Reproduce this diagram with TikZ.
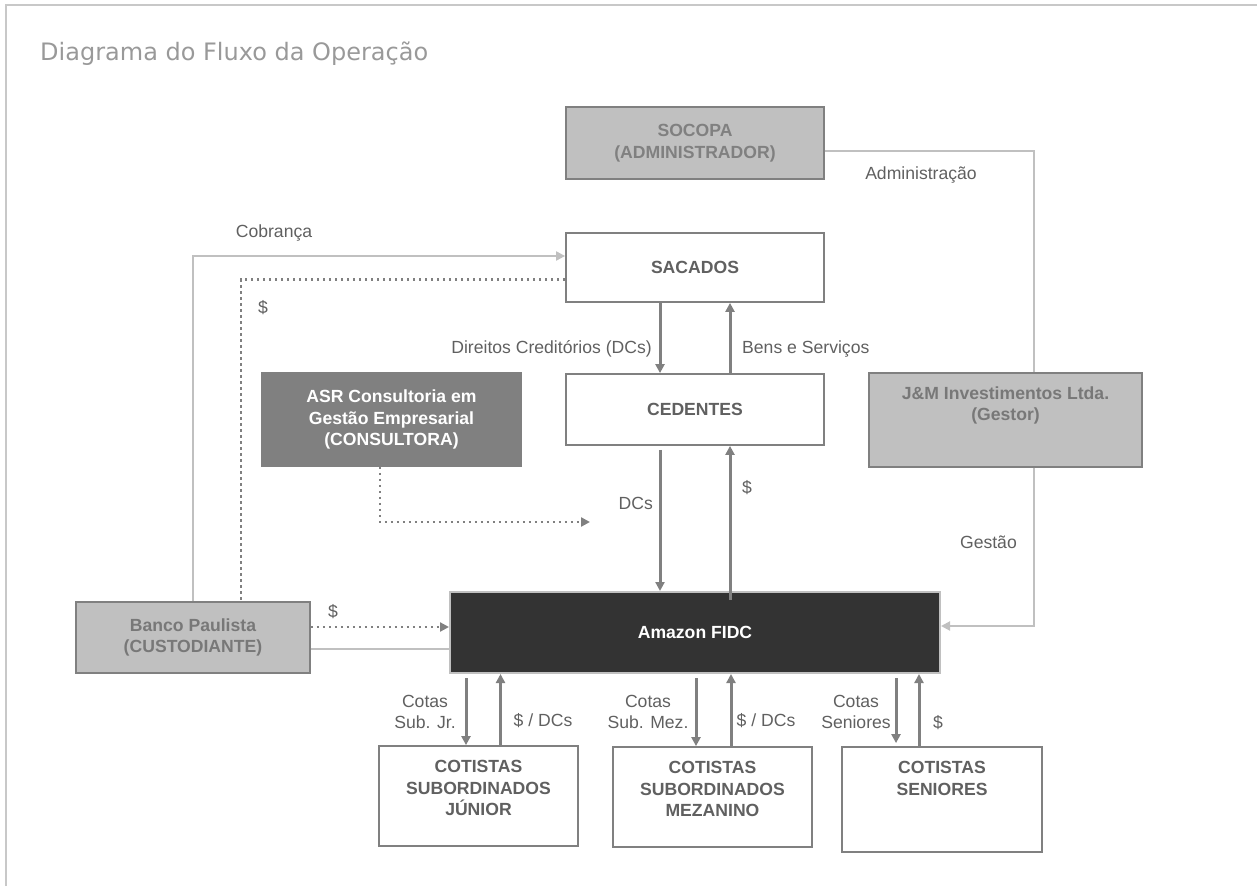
\documentclass[tikz,border=0pt]{standalone}
\usepackage{fontspec}
\setmainfont{Liberation Sans}
\newfontfamily\titlefont{DejaVu Sans}
\usetikzlibrary{arrows.meta}
\definecolor{linegray}{HTML}{C0C0C0}
\definecolor{framegray}{HTML}{C8C8C8}
\definecolor{darkgray}{HTML}{808080}
\definecolor{txtgray}{HTML}{606060}
\definecolor{titlegray}{HTML}{999999}
\definecolor{boxfill}{HTML}{C0C0C0}
\definecolor{fidc}{HTML}{333333}

\begin{document}
\begin{tikzpicture}[x=1pt,y=-1pt,
    every node/.style={font=\fontsize{17.6}{20.5}\selectfont, text=txtgray, inner sep=0pt},
    whitebox/.style={draw=darkgray, line width=1.8pt, fill=white, align=center,
      font=\fontsize{17.6}{21.5}\selectfont\bfseries},
    graybox/.style={whitebox, fill=boxfill},
    boxtext/.style={anchor=north, align=center, font=\fontsize{17.6}{21.5}\selectfont\bfseries},
    lbl/.style={align=center},
    darr/.style={draw=darkgray, line width=3pt, -{Triangle[length=9pt,width=9pt]}},
    larr/.style={draw=linegray, line width=2pt, -{Triangle[length=9pt,width=9pt]}},
    lline/.style={draw=linegray, line width=2pt},
    dotline/.style={draw=darkgray, line width=2.5pt, dash pattern=on 2.5pt off 3.5pt}
  ]
    \useasboundingbox (0,0) rectangle (1257,886);
    % frame and title
    \draw[framegray, line width=2pt] (6,886) -- (6,5) -- (1257,5);
    \node[anchor=base west, text=titlegray, font=\titlefont\fontsize{24}{28}\selectfont] (title) at (40,60) {Diagrama do Fluxo da Operação};

    % boxes
    \node[graybox, minimum width=258pt, minimum height=72pt, text=darkgray] (socopa) at (695,143) {SOCOPA\\(ADMINISTRADOR)};
    \node[whitebox, minimum width=258pt, minimum height=69pt] (sacados) at (695,267.5) {SACADOS};
    \node[whitebox, minimum width=258pt, minimum height=71pt] (cedentes) at (695,409.5) {CEDENTES};
    \node[whitebox, fill=darkgray, draw=darkgray, text=white, minimum width=259pt, minimum height=93pt] (asr) at (391.5,419.5) {ASR Consultoria em\\Gestão Empresarial\\(CONSULTORA)};
    \node[graybox, minimum width=273pt, minimum height=94pt] (gestor) at (1005.5,420) {};
    \node[boxtext, text=txtgray!85!white] (gestortxt) at ([yshift=-14pt]gestor.north) {J\&M Investimentos Ltda.\\(Gestor)};
    \node[whitebox, fill=fidc, draw=linegray, line width=2pt, text=white, minimum width=490pt, minimum height=81pt] (amazon) at (695,632.5) {Amazon FIDC};
    \node[graybox, minimum width=234pt, minimum height=71pt, text=txtgray!85!white] (banco) at (193,637.5) {Banco Paulista\\(CUSTODIANTE)};
    \node[whitebox, minimum width=199pt, minimum height=100pt] (junior) at (478.5,796) {};
    \node[boxtext] (juniortxt) at ([yshift=-15pt]junior.north) {COTISTAS\\SUBORDINADOS\\JÚNIOR};
    \node[whitebox, minimum width=199pt, minimum height=100pt] (mezanino) at (712.5,797) {};
    \node[boxtext] (mezaninotxt) at ([yshift=-15pt]mezanino.north) {COTISTAS\\SUBORDINADOS\\MEZANINO};
    \node[whitebox, minimum width=200pt, minimum height=105pt] (seniores) at (942,799.5) {};
    \node[boxtext] (seniorestxt) at ([yshift=-15pt]seniores.north) {COTISTAS\\SENIORES};

    % cobranca and custodia
    \draw[larr] (banco.north) |- ([yshift=11.5pt]sacados.west);
    \draw[dotline] ([yshift=-12pt]sacados.west) -| ([xshift=48pt]banco.north);
    \draw[dotline, -{Triangle[length=9pt,width=9pt]}] ([yshift=10.5pt]banco.east) -- ([yshift=10.5pt]banco.east -| amazon.west);
    \draw[lline] ([yshift=-11.5pt]banco.east) -- ([yshift=-11.5pt]banco.east -| amazon.west);
    \node[anchor=base] (cobranca) at (274,237.3) {Cobrança};
    \node[anchor=base] (sacadosdin) at (263,313) {\$};
    \node[anchor=base] (bancodin) at (333,617) {\$};

    % sacados - cedentes - fundo
    \draw[darr] ([xshift=-35pt]sacados.south) -- ([xshift=-35pt]cedentes.north);
    \draw[darr] ([xshift=35pt]cedentes.north) -- ([xshift=35pt]sacados.south);
    \draw[darr] ([xshift=-35pt,yshift=-4pt]cedentes.south) -- ([xshift=-35pt]amazon.north);
    \draw[darr] ([xshift=35pt,yshift=-9pt]amazon.north) -- ([xshift=35pt]cedentes.south);
    \node[anchor=base east] (direitos) at (652,353.3) {Direitos Creditórios (DCs)};
    \node[anchor=base west] (bens) at (742,353.3) {Bens e Serviços};
    \node[anchor=base east] (dcs) at (653,509.3) {DCs};
    \node[anchor=base west] (cedentesdin) at (742,493.3) {\$};

    % consultora
    \coordinate (consult) at (590,522);
    \draw[dotline, -{Triangle[length=9pt,width=9pt]}] ([xshift=-11.5pt]asr.south) |- (consult);

    % administrador e gestor
    \draw[lline] ([yshift=-8pt]socopa.east) -| ([xshift=28.5pt]gestor.north);
    \draw[larr] ([xshift=28.5pt]gestor.south) |- ([yshift=6.5pt]amazon.east);
    \node[anchor=base] (admin) at (921,179.3) {Administração};
    \node[anchor=base east] (gestao) at (1017,548.3) {Gestão};

    % cotistas
    \draw[darr] ([xshift=-12.5pt]junior.north |- amazon.south) ++(0,4) -- ([xshift=-12.5pt]junior.north);
    \draw[darr] ([xshift=22pt]junior.north) -- ([xshift=22pt]junior.north |- amazon.south);
    \draw[darr] ([xshift=-16.5pt]mezanino.north |- amazon.south) ++(0,4) -- ([xshift=-16.5pt]mezanino.north);
    \draw[darr] ([xshift=18.5pt]mezanino.north) -- ([xshift=18.5pt]mezanino.north |- amazon.south);
    \draw[darr] ([xshift=-46pt]seniores.north |- amazon.south) ++(0,4) -- ([xshift=-46pt,yshift=3pt]seniores.north);
    \draw[darr] ([xshift=-23pt]seniores.north) -- ([xshift=-23pt]seniores.north |- amazon.south);
    \node[lbl] (cotasjr) at (425,712) {Cotas\\Sub. Jr.};
    \node[anchor=base] (jrdin) at (543,726.3) {\$ / DCs};
    \node[lbl] (cotasmez) at (648,712) {Cotas\\Sub. Mez.};
    \node[anchor=base] (mezdin) at (766,726.3) {\$ / DCs};
    \node[lbl] (cotassen) at (856,712) {Cotas\\Seniores};
    \node[anchor=base] (sendin) at (938,728.3) {\$};
\end{tikzpicture}
\end{document}
